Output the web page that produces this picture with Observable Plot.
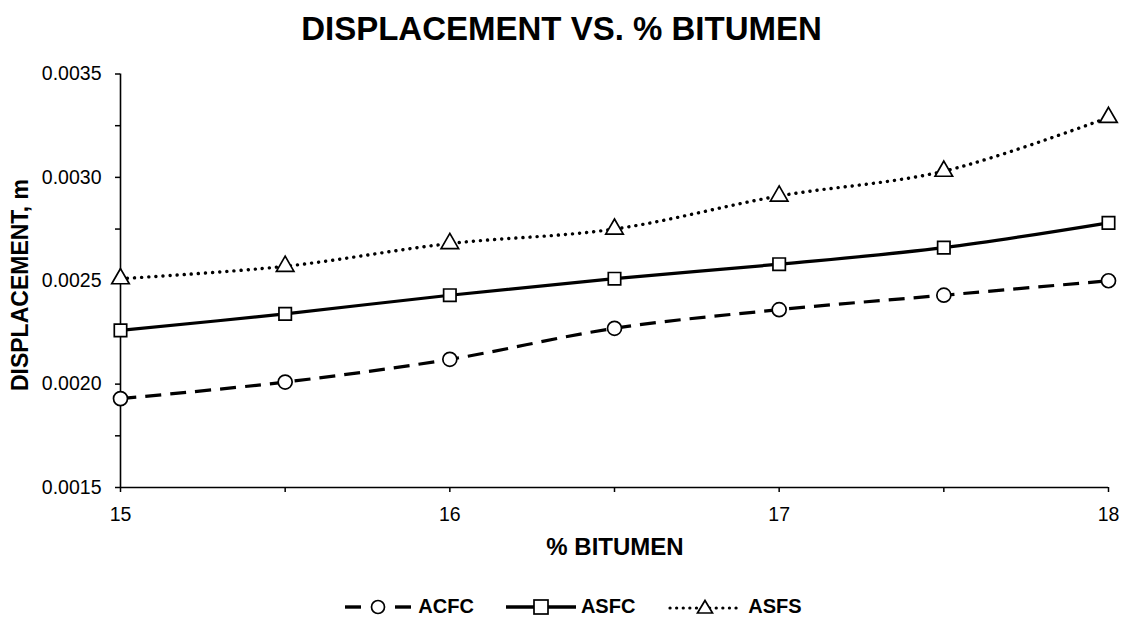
<!DOCTYPE html>
<html>
<head>
<meta charset="utf-8">
<script src="https://cdn.jsdelivr.net/npm/d3@7"></script>
<script src="https://cdn.jsdelivr.net/npm/@observablehq/plot@0.6"></script>
<style>
  html, body { margin: 0; padding: 0; background: #fff; }
  body { width: 1123px; height: 620px; overflow: hidden; font-family: "Liberation Sans", Arial, sans-serif; }
  #title { height: 56px; line-height: 58px; text-align: center; font-weight: bold; font-size: 33px; color: #000; }
  #chart { height: 515px; }
  #legend { display: flex; justify-content: center; align-items: center; gap: 32px; height: 49px; font-weight: bold; font-size: 20px; padding-left: 22px; padding-top: 22px; box-sizing: border-box; }
  .item { display: flex; align-items: center; gap: 5px; }
</style>
</head>
<body>
<div id="title">DISPLACEMENT VS. % BITUMEN</div>
<div id="chart"></div>
<div id="legend"></div>
<script>
const bitumen = [15, 15.5, 16, 16.5, 17, 17.5, 18];
const acfc = [0.00193, 0.00201, 0.00212, 0.00227, 0.00236, 0.00243, 0.00250];
const asfc = [0.00226, 0.00234, 0.00243, 0.00251, 0.00258, 0.00266, 0.00278];
const asfs = [0.00251, 0.00257, 0.00268, 0.00275, 0.00291, 0.00303, 0.00329];
const seriesNames = ["ACFC", "ASFC", "ASFS"];
const yTicks = [0.0015, 0.0020, 0.0025, 0.0030, 0.0035];
const yMinor = [0.00175, 0.00225, 0.00275, 0.00325];
const xTicks = [15, 16, 17, 18];
const xMinor = [15.5, 16.5, 17.5];

const styles = {
  ACFC: {symbol: "circle", dash: "16,9", cap: "butt", width: 3.2},
  ASFC: {symbol: "square", dash: null, cap: "butt", width: 3.2},
  ASFS: {symbol: "triangle", dash: "0.1,7", cap: "round", width: 3.4}
};

const allValues = {ACFC: acfc, ASFC: asfc, ASFS: asfs};
const data = seriesNames.flatMap(s => bitumen.map((b, i) => ({series: s, x: b, y: allValues[s][i]})));

const marks = [];
for (const s of seriesNames) {
  const st = styles[s];
  marks.push(Plot.line(data.filter(d => d.series === s), {
    x: "x", y: "y", curve: "catmull-rom", stroke: "#000", strokeWidth: st.width,
    strokeDasharray: st.dash, strokeLinecap: st.cap
  }));
}
marks.push(
  Plot.ruleX([15], {stroke: "#000", strokeWidth: 1.6}),
  Plot.ruleY([0.0015], {stroke: "#000", strokeWidth: 1.6}),
  Plot.axisY({ticks: yTicks, tickFormat: d3.format(".4f"), tickSize: 5, tickPadding: 14, fontSize: 19.5, strokeWidth: 1.5, label: null}),
  Plot.axisY({ticks: yMinor, tickFormat: () => "", tickSize: 5, strokeWidth: 1.5, label: null}),
  Plot.axisX({ticks: xTicks, tickFormat: d => String(d), tickSize: 5, tickPadding: 15, fontSize: 19.5, strokeWidth: 1.5, label: null}),
  Plot.axisX({ticks: xMinor, tickFormat: () => "", tickSize: 5, strokeWidth: 1.5, label: null})
);
for (const s of seriesNames) {
  const st = styles[s];
  marks.push(Plot.dot(data.filter(d => d.series === s), {
    x: "x", y: "y", symbol: () => st.symbol, r: s === "ASFS" ? 6.5 : 7, fill: "#fff", stroke: "#000", strokeWidth: 1.7
  }));
}

const chart = Plot.plot({
  width: 1123,
  height: 515,
  marginLeft: 120,
  marginRight: 15,
  marginTop: 17.5,
  marginBottom: 84,
  x: {domain: [15, 18], label: null},
  y: {domain: [0.0015, 0.0035], label: null},
  symbol: {domain: ["circle", "square", "triangle"], range: ["circle", "square", "triangle"]},
  style: {fontFamily: "'Liberation Sans', Arial, sans-serif", color: "#000", background: "#fff", overflow: "visible"},
  marks
});

// Axis titles as SVG text
const svg = d3.select(chart);
svg.append("text").attr("x", 615).attr("y", 493).attr("text-anchor", "middle").attr("dominant-baseline", "middle")
  .attr("font-weight", "bold").attr("font-size", 24).attr("fill", "#000").text("% BITUMEN");
svg.append("text").attr("transform", "translate(22,229) rotate(-90)").attr("text-anchor", "middle").attr("dominant-baseline", "middle")
  .attr("font-weight", "bold").attr("font-size", 23).attr("fill", "#000").text("DISPLACEMENT, m");

document.getElementById("chart").appendChild(chart);

// Legend
const legend = document.getElementById("legend");
const swatchSvg = {
  ACFC: `<svg width="70" height="22"><line x1="2" y1="11" x2="18" y2="11" stroke="#000" stroke-width="3.4"/><line x1="52" y1="11" x2="68" y2="11" stroke="#000" stroke-width="3.4"/><circle cx="35" cy="11" r="6.5" fill="#fff" stroke="#000" stroke-width="1.7"/></svg>`,
  ASFC: `<svg width="70" height="22"><line x1="0" y1="11" x2="70" y2="11" stroke="#000" stroke-width="3.4"/><rect x="28" y="4" width="14" height="14" fill="#fff" stroke="#000" stroke-width="1.7"/></svg>`,
  ASFS: `<svg width="76" height="22"><line x1="3" y1="12" x2="73" y2="12" stroke="#000" stroke-width="3.2" stroke-dasharray="0.1,6.5" stroke-linecap="round"/><path d="M38,4.5 L45.5,17 L30.5,17 Z" fill="#fff" stroke="#000" stroke-width="1.7"/></svg>`
};
for (const s of seriesNames) {
  const div = document.createElement("div");
  div.className = "item";
  div.innerHTML = swatchSvg[s] + `<span>${s}</span>`;
  legend.appendChild(div);
}
</script>
</body>
</html>
